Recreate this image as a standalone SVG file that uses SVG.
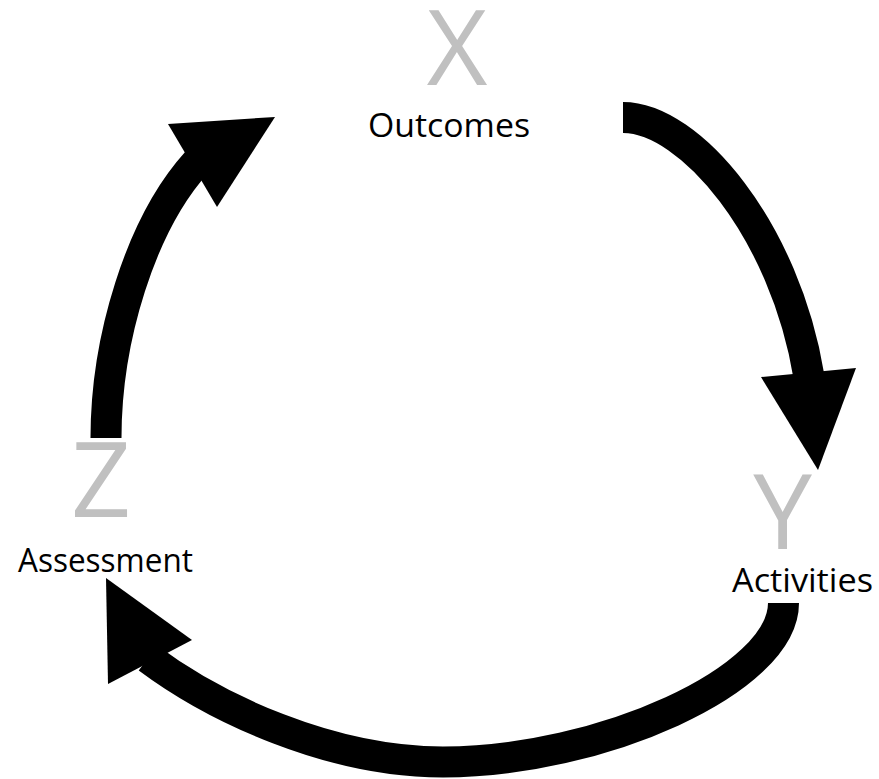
<svg xmlns="http://www.w3.org/2000/svg" width="879" height="779" viewBox="0 0 879 779">
<style>
.shaft{fill:none;stroke:#000;stroke-width:31;stroke-linecap:butt}
.head{fill:#000;stroke:none}
.letter{font-family:"Open Sans","Noto Sans",sans-serif;font-size:105px;fill:#c0c0c0;text-anchor:middle}
.label{font-family:"Open Sans","Noto Sans",sans-serif;font-size:33px;fill:#000;text-anchor:middle}
</style>
<rect width="879" height="779" fill="#fff"/>
<g id="connectors">
<path class="shaft" d="M623,117.5 C690,117.5 785,230 809,377"/>
<polygon class="head" points="761,377 856,368 818,470"/>
<path class="shaft" d="M783.5,603 C783.5,680 600,762 443,762 C330,762 215,708 148,658"/>
<polygon class="head" points="106,578 192,640 108,684"/>
<path class="shaft" d="M106,438 C106,340 140,225 197,162"/>
<polygon class="head" points="168,124 275,117 217,207"/>
</g>
<g id="node-outcomes">
<text class="letter" x="457" y="85">X</text>
<text class="label" x="449" y="137" textLength="162" lengthAdjust="spacingAndGlyphs">Outcomes</text>
</g>
<g id="node-activities">
<text class="letter" x="782.5" y="549">Y</text>
<text class="label" x="802.5" y="592" textLength="141" lengthAdjust="spacingAndGlyphs">Activities</text>
</g>
<g id="node-assessment">
<text class="letter" x="101" y="517">Z</text>
<text class="label" x="105.5" y="572" textLength="175" lengthAdjust="spacingAndGlyphs">Assessment</text>
</g>
</svg>
